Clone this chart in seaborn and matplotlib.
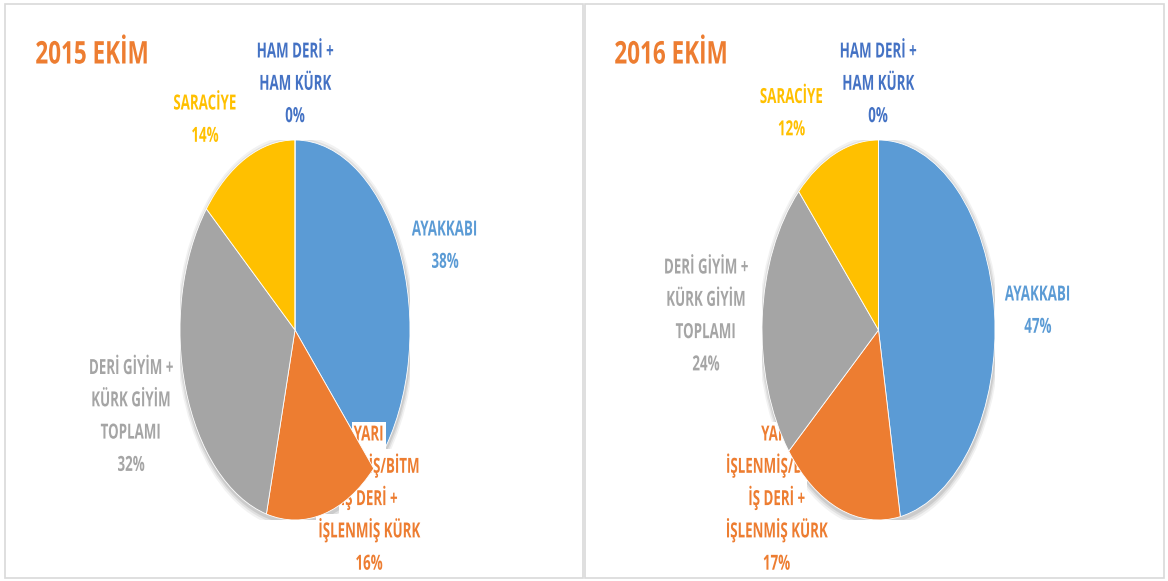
import matplotlib
matplotlib.use("Agg")
import matplotlib.pyplot as plt
import matplotlib.transforms as mtransforms
from matplotlib.patches import Rectangle, Ellipse
from matplotlib.patheffects import AbstractPathEffect
import seaborn as sns

# ---- data ----
categories = ["AYAKKABI",
              "YARI\nİŞLENMİŞ/BİTM\nİŞ DERİ +\nİŞLENMİŞ KÜRK",
              "DERİ GİYİM +\nKÜRK GİYİM\nTOPLAMI",
              "SARACİYE",
              "HAM DERİ +\nHAM KÜRK"]
values_2015 = [38, 16, 32, 14, 0]
values_2016 = [47, 17, 24, 12, 0]
titles = ["2015 EKİM", "2016 EKİM"]

colors = ["#5B9BD5", "#ED7D31", "#A5A5A5", "#FFC000", "#4472C4"]

sns.set_theme(style="white")
FONT = ["Open Sans", "DejaVu Sans"]
plt.rcParams["font.family"] = FONT

SX_LABEL = 0.64
SX_TITLE = 0.72


class Condense(AbstractPathEffect):
    """Squeeze glyphs horizontally (the reference uses a condensed face)."""
    def __init__(self, sx, anchor="center"):
        super().__init__()
        self.sx = sx
        self.anchor = anchor

    def draw_path(self, renderer, gc, tpath, affine, rgbFace=None):
        ext = tpath.get_extents()
        c = (ext.x0 + ext.x1) / 2 if self.anchor == "center" else ext.x0
        t = mtransforms.Affine2D().translate(-c, 0).scale(self.sx, 1).translate(c, 0) + affine
        renderer.draw_path(gc, tpath, t, rgbFace)


W, H = 1168, 581
fig = plt.figure(figsize=(W / 100, H / 100), dpi=100)
fig.patch.set_facecolor("white")
pix = mtransforms.Affine2D().scale(1 / W, -1 / H).translate(0, 1) + fig.transFigure

# panel frames
for x0, x1 in [(5, 583), (585, 1164)]:
    fig.patches.append(Rectangle((x0 / W, 3 / H), (x1 - x0) / W, (578 - 4) / H,
                                 transform=fig.transFigure, fill=False,
                                 edgecolor="#D9D9D9", linewidth=1.2))

STEP = 32.3
CAP = 15.0
# layout: (x centre, cap-centre y of first line) in pixels
pies = [
    dict(cx=295, cy=330, rx=115, ry=190, title_x=35,
         label_pos=[(445, 228), (369, 433), (131, 366.5), (205, 102), (295, 50)]),
    dict(cx=878.5, cy=330, rx=116.5, ry=190, title_x=614,
         label_pos=[(1038, 293), (776.5, 433), (706, 266), (791.5, 95.5), (878, 50)]),
]
wedge_z = [1.0, 2.0, 2.1, 2.2, 2.3]

label_items = []  # (ax, text, x, y_cap_centre, line index)
for vals, title, lay in zip([values_2015, values_2016], titles, pies):
    ax = fig.add_axes([(lay["cx"] - lay["rx"]) / W, (H - (lay["cy"] + lay["ry"])) / H,
                       2 * lay["rx"] / W, 2 * lay["ry"] / H])
    # soft shadow
    for k, a in [(1.035, 0.05), (1.022, 0.07), (1.01, 0.09)]:
        ax.add_patch(Ellipse((0.005, -0.012), 2 * k, 2 * k, facecolor="black",
                             edgecolor="none", alpha=a, zorder=0.5))
    wedges, _ = ax.pie(vals, colors=colors, startangle=90, counterclock=False,
                       radius=1, wedgeprops=dict(linewidth=0.6, edgecolor="white"))
    for w, z in zip(wedges, wedge_z):
        w.set_zorder(z)
    ax.set_xlim(-1, 1)
    ax.set_ylim(-1, 1)
    ax.set_aspect("auto")
    ax.axis("off")
    for cat, v, c, (px, py) in zip(categories, vals, colors, lay["label_pos"]):
        lines = cat.split("\n") + [f"{v}%"]
        for i, ln in enumerate(lines):
            yc = py + i * STEP
            t = ax.text(px, yc + CAP / 2, ln, transform=pix, ha="center",
                        va="baseline", color=c, fontsize=15, fontweight="bold",
                        zorder=1.3, clip_on=False, path_effects=[Condense(SX_LABEL)])
            label_items.append((ax, t, px, yc, i))
    ax.text(lay["title_x"], 52 + 11.5, title, transform=pix, ha="left", va="baseline",
            color="#ED7D31", fontsize=22.5, fontweight="bold", zorder=3, clip_on=False,
            path_effects=[Condense(SX_TITLE, anchor="left")])

# white backing behind each label line (as in the reference, where labels mask the first slice)
fig.canvas.draw()
renderer = fig.canvas.get_renderer()
for ax, t, px, yc, i in label_items:
    bb = t.get_window_extent(renderer)
    w = bb.width * SX_LABEL + 4
    top = yc - (11 if i == 0 else STEP / 2)
    ax.add_patch(Rectangle((px - w / 2, top), w, yc + STEP / 2 - top, transform=pix,
                           facecolor="white", edgecolor="none", zorder=1.2,
                           clip_on=False))

fig.savefig("out.png", dpi=100)
